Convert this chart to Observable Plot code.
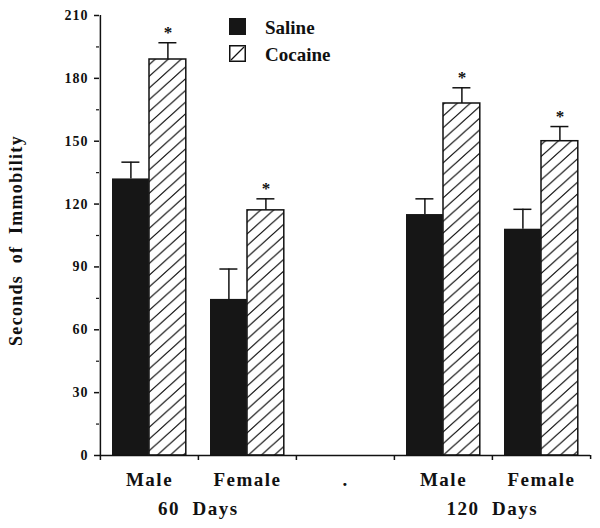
<!DOCTYPE html>
<html><head><meta charset="utf-8">
<script src="https://cdn.jsdelivr.net/npm/d3@7"></script>
<script src="https://cdn.jsdelivr.net/npm/@observablehq/plot@0.6"></script>
<style>
body{margin:0;background:#fff;}
#wrap{position:relative;width:600px;height:528px;}
#chart text{white-space:pre;}
#chart g[aria-label="y-axis tick label"] text{letter-spacing:1px;}
#chart g[aria-label="x-axis tick label"] text{letter-spacing:1.5px;}
#chart g.ylab text{letter-spacing:1.3px;}
#legend{position:absolute;left:227px;top:16px;}
#legend text{font-family:"Liberation Serif","Times New Roman",serif;font-weight:bold;font-size:19px;fill:#111;}
</style></head><body>
<svg width="0" height="0" style="position:absolute"><defs>
<pattern id="hatch" patternUnits="userSpaceOnUse" width="13" height="11.7">
<rect width="13" height="11.7" fill="#fff"/>
<path d="M0,11.7L13,0M-2,1.8L2,-1.8M11,13.5L15,9.9" stroke="#111" stroke-width="1.2" fill="none"/>
</pattern></defs></svg>
<div id="wrap"><div id="chart"></div><svg id="legend" width="160" height="60"></svg></div>
<script>
// ---- data ----
const groups = ["Male 60", "Female 60", "gap", "Male 120", "Female 120"];
const groupLabels = ["Male", "Female", ".", "Male", "Female"];
const barGroups = ["Male 60", "Female 60", "Male 120", "Female 120"];
const salineMean = [132, 74.5, 115, 108];
const salineErr = [8, 14.5, 7.5, 9.5];
const cocaineMean = [189, 117, 168, 150];
const cocaineErr = [8, 5.5, 7.5, 7];
const ageLabels = ["60  Days", "120  Days"];
const ageBoundary = ["Female 60", "Female 120"];
const yMajorTicks = [0, 30, 60, 90, 120, 150, 180, 210];
const yMinorTicks = [15, 45, 75, 105, 135, 165, 195];
const seriesNames = ["Saline", "Cocaine"];
const yTitle = "Seconds  of  Immobility";

const saline = barGroups.map((g, i) => ({g, v: salineMean[i], e: salineErr[i]}));
const cocaine = barGroups.map((g, i) => ({g, v: cocaineMean[i], e: cocaineErr[i]}));

const half = 49.1; // half a category step in px
const ink = "#111";

const chart = Plot.plot({
  width: 600, height: 528,
  marginLeft: 99, marginRight: 10, marginTop: 15, marginBottom: 73,
  style: {fontFamily: '"Liberation Serif", "Times New Roman", serif', fontWeight: "bold", background: "#fff", color: ink},
  x: {type: "band", domain: groups, paddingInner: 0, paddingOuter: 0, axis: null},
  y: {domain: [0, 210], axis: null},
  marks: [
    Plot.barY(saline, {x: "g", y: "v", fill: "#161616", insetLeft: 12, insetRight: 49.2}),
    Plot.barY(cocaine, {x: "g", y: "v", fill: "url(#hatch)", stroke: ink, strokeWidth: 1.5, insetLeft: 49, insetRight: 12.2}),
    Plot.ruleX(saline, {x: "g", y1: "v", y2: d => d.v + d.e, dx: -18.6, stroke: ink, strokeWidth: 1.5}),
    Plot.tickY(saline, {x: "g", y: d => d.v + d.e, dx: -18.6, insetLeft: 40, insetRight: 40, stroke: ink, strokeWidth: 1.5}),
    Plot.ruleX(cocaine, {x: "g", y1: "v", y2: d => d.v + d.e, dx: 18.4, stroke: ink, strokeWidth: 1.5}),
    Plot.tickY(cocaine, {x: "g", y: d => d.v + d.e, dx: 18.4, insetLeft: 40, insetRight: 40, stroke: ink, strokeWidth: 1.5}),
    Plot.text(cocaine, {x: "g", y: d => d.v + d.e, text: () => "*", dx: 18.4, dy: -10, fontSize: 17}),
    // axis lines
    Plot.ruleY([0], {stroke: ink, strokeWidth: 1.5}),
    Plot.ruleX([groups[0]], {y1: 0, y2: 210, dx: -half, stroke: ink, strokeWidth: 1.5}),
    // y axis
    Plot.axisY({ticks: yMajorTicks, tickSize: 5, tickPadding: 6, fontSize: 14, strokeWidth: 1.5, label: null}),
    Plot.axisY({ticks: yMinorTicks, tickSize: 3, tickFormat: () => "", strokeWidth: 1.2, label: null}),
    // x axis ticks at category boundaries
    Plot.axisX({ticks: groups, tickSize: 5, tickFormat: () => "", dx: -half, strokeWidth: 1.5, label: null}),
    Plot.axisX({ticks: [groups[groups.length - 1]], tickSize: 4, tickFormat: () => "", dx: half, strokeWidth: 1.5, label: null}),
    // category labels
    Plot.axisX({ticks: groups, tickSize: 0, tickPadding: 17, fontSize: 19, tickFormat: d => groupLabels[groups.indexOf(d)], label: null}),
    // age labels
    Plot.text(ageBoundary, {x: d => d, text: d => ageLabels[ageBoundary.indexOf(d)], frameAnchor: "bottom", dx: -half, dy: 59, fontSize: 19}),
    // y title
    Plot.text([yTitle], {frameAnchor: "left", textAnchor: "middle", text: d => d, rotate: -90, dx: -83, dy: 5, fontSize: 18, className: "ylab"})
  ]
});
document.getElementById("chart").appendChild(chart);
d3.select(chart).selectAll("text").filter(function(){ return this.textContent.includes("Days"); }).style("letter-spacing", "1.5px");

// legend
const lg = d3.select("#legend");
const rowsY = [2, 29];
seriesNames.forEach((name, i) => {
  const y = rowsY[i];
  if (i === 0) {
    lg.append("rect").attr("x", 2).attr("y", y).attr("width", 17).attr("height", 17).attr("fill", "#161616");
  } else {
    lg.append("rect").attr("x", 2.75).attr("y", y + 0.75).attr("width", 15.5).attr("height", 15.5).attr("fill", "#fff").attr("stroke", ink).attr("stroke-width", 1.5);
    lg.append("line").attr("x1", 4).attr("y1", y + 15).attr("x2", 17).attr("y2", y + 2).attr("stroke", ink).attr("stroke-width", 1.3);
  }
  lg.append("text").attr("x", 38).attr("y", y + 16).text(name);
});
</script>
</body></html>
